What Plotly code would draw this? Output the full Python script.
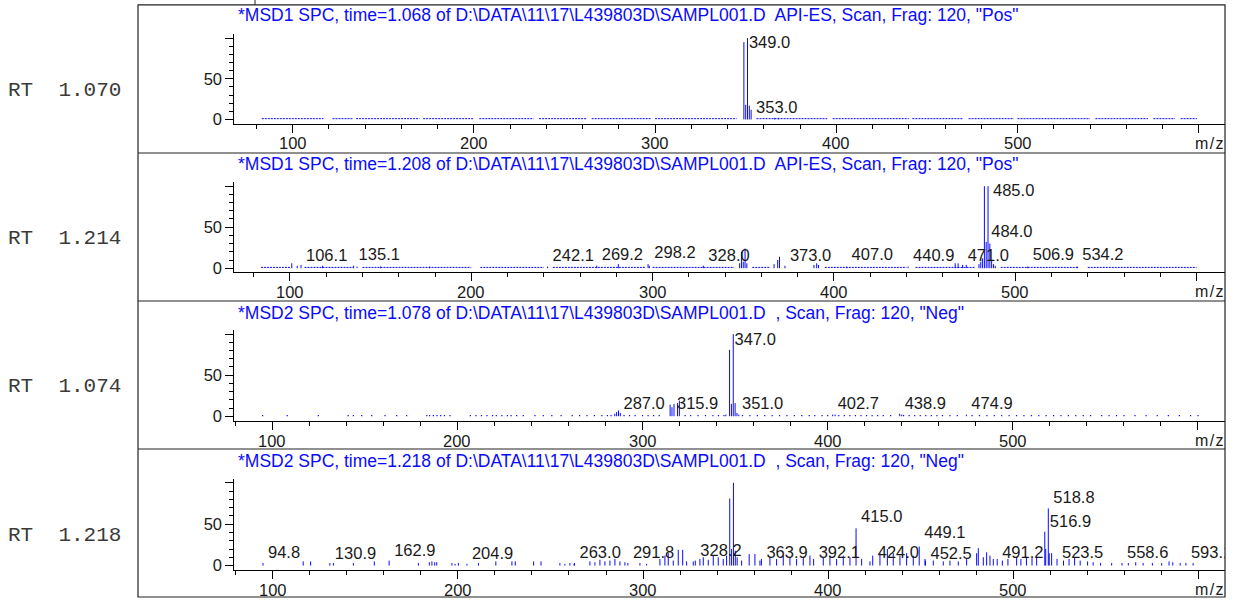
import plotly.graph_objects as go

# ---------------- data ----------------
rt_labels = ["RT  1.070", "RT  1.214", "RT  1.074", "RT  1.218"]
titles = [
    r'*MSD1 SPC, time=1.068 of D:\DATA\11\17\L439803D\SAMPL001.D' + '\u00a0 API-ES, Scan, Frag: 120, "Pos"',
    r'*MSD1 SPC, time=1.208 of D:\DATA\11\17\L439803D\SAMPL001.D' + '\u00a0 API-ES, Scan, Frag: 120, "Pos"',
    r'*MSD2 SPC, time=1.078 of D:\DATA\11\17\L439803D\SAMPL001.D' + '\u00a0 , Scan, Frag: 120, "Neg"',
    r'*MSD2 SPC, time=1.218 of D:\DATA\11\17\L439803D\SAMPL001.D' + '\u00a0 , Scan, Frag: 120, "Neg"',
]
x_tick_vals = [100, 200, 300, 400, 500, 600]
x_tick_text = ["100", "200", "300", "400", "500", ""]
y_tick_vals = [0, 50, 100]
y_tick_text = ["0", "50", ""]
x_unit_label = "m\u200a/\u200az"

# panel 1 : RT 1.070 (Pos)
p1_mz = [349.0, 350.0, 351.0, 352.0, 353.0, 366.0, 368.0]
p1_int = [95, 18, 100, 17, 12, 2, 2]
p1_lab_mz = [349.0, 353.0]
p1_lab_y = [92.7, 13.4]
p1_noise_start = [83, 122, 135, 172, 203, 236, 265, 300, 356, 398, 442, 473, 500, 543, 575, 590]
p1_noise_end = [117, 133, 170, 200, 233, 262, 298, 345, 395, 440, 470, 498, 540, 572, 587, 599]

# panel 2 : RT 1.214 (Pos)
p2_mz = [101.0, 104.0, 106.1, 118.0, 135.1, 137.0, 150.0, 177.0, 242.1, 269.2, 281.1, 297.5,
         298.2, 328.0, 348.0, 349.0, 350.0, 351.0, 352.0, 367.0, 369.0, 370.0, 373.0, 389.0,
         390.5, 391.5, 407.0, 440.9, 466.9, 468.5, 471.0, 473.0, 480.0, 481.0, 482.0, 483.0,
         484.0, 485.0, 486.0, 487.0, 488.0, 489.0, 506.9, 534.2]
p2_int = [6, 3, 4, 3, 3, 2, 2, 2, 2, 3, 5, 5,
          3, 3, 6, 20, 8, 24, 6, 5, 10, 14, 3, 4,
          6, 4, 2, 2, 6, 6, 4, 4, 5, 8, 12, 100,
          32, 100, 30, 10, 5, 3, 2, 2]
p2_lab_mz = [106.1, 135.1, 242.1, 269.2, 298.2, 328.0, 373.0, 407.0, 440.9, 471.0, 485.0, 484.0, 506.9, 534.2]
p2_lab_y = [14.3, 15.5, 14.3, 15.5, 17.0, 14.3, 14.3, 15.5, 14.3, 14.3, 93.5, 42.7, 15.5, 15.5]
p2_noise_start = [84, 108, 140, 205, 245, 300, 355, 395, 445, 492, 540]
p2_noise_end = [100, 135, 200, 240, 296, 345, 365, 440, 478, 535, 600]

# panel 3 : RT 1.074 (Neg)
p3_mz = [285.0, 286.0, 287.0, 288.0, 314.9, 315.9, 317.0, 318.9, 319.9, 345.0, 347.0, 348.0,
         349.0, 350.0, 351.0, 352.0, 402.7, 404.0, 438.9, 440.0, 474.9]
p3_int = [3, 5, 7, 4, 14, 11, 15, 16, 19, 2, 81, 15,
          100, 16, 4, 2, 2, 2, 3, 2, 2]
p3_lab_mz = [287.0, 315.9, 347.0, 351.0, 402.7, 438.9, 474.9]
p3_lab_y = [14.2, 14.2, 92.4, 14.0, 14.2, 14.2, 14.2]
p3_noise_mz = [94.8, 108.1, 124.9, 141.0, 143.8, 148.3, 153.7, 160.9, 167.2, 172.6, 183.5, 185.0,
               187.0, 189.0, 191.0, 193.0, 196.0, 207.0, 210.0, 213.0, 216.0, 219.0, 221.0, 224.0,
               227.0, 229.0, 232.0, 235.6, 241.9, 246.4, 251.0, 256.0, 262.0, 266.0, 270.0, 274.0,
               278.0, 281.0, 283.0, 290.0, 293.0, 296.0, 300.0, 303.0, 306.0, 309.0, 323.0, 326.0,
               330.0, 334.0, 338.0, 341.0, 344.0, 354.0, 358.0, 362.0, 366.0, 370.0, 374.0, 378.0,
               382.0, 386.0, 390.0, 393.0, 397.0, 400.0, 406.0, 409.0, 412.0, 415.0, 418.0, 421.0,
               424.0, 427.0, 430.0, 434.0, 441.0, 444.0, 447.0, 450.0, 453.0, 456.0, 459.0, 462.0,
               466.0, 470.0, 478.0, 482.0, 486.0, 490.0, 494.0, 498.0, 502.0, 506.0, 510.0, 514.0,
               518.0, 522.0, 526.0, 530.0, 534.0, 538.0, 542.0, 548.0, 552.0, 556.0, 560.0, 566.0,
               572.0, 578.0, 584.0, 590.0, 596.0, 600.0]
p3_noise_int = 1.5

# panel 4 : RT 1.218 (Neg)
p4_mz = [94.8, 116.5, 120.5, 130.9, 132.8, 143.6, 154.9, 162.9, 178.7, 184.6, 186.0, 187.5,
         188.6, 196.8, 198.5, 200.3, 204.9, 211.1, 220.5, 229.2, 231.0, 240.9, 244.9,
         255.1, 257.8, 260.5, 262.7, 263.0, 271.3, 274.0, 276.7, 279.4, 282.1, 284.8, 287.5,
         290.2, 291.8, 298.3, 301.9, 309.1, 311.8, 313.6, 316.3, 319.0, 321.4, 323.5, 327.1,
         328.2, 330.7, 332.5, 335.2, 337.9, 340.6, 343.3, 345.1, 346.8, 347.8, 348.8, 349.8,
         350.8, 353.2, 357.3, 360.4, 363.1, 363.9, 368.5, 372.1, 375.7, 379.3, 382.9, 386.5,
         390.1, 392.1, 397.3, 400.9, 404.5, 408.1, 411.7, 415.0, 418.0, 422.5, 424.0, 427.9,
         431.9, 435.1, 438.7, 442.3, 445.9, 449.1, 452.2, 452.5, 456.7, 462.1, 465.7, 470.2,
         474.7, 480.1, 481.0, 483.7, 485.5, 487.3, 489.1, 491.2, 494.0, 497.0, 501.7, 504.0,
         507.0, 510.0, 512.5, 516.9, 517.4, 518.8, 519.3, 520.6, 523.5, 527.0, 530.0, 533.0,
         536.0, 540.0, 543.0, 547.0, 553.0, 558.6, 562.0, 566.0, 570.0, 575.0, 580.0, 584.0,
         586.0, 590.0, 593.1, 597.0]
p4_int = [3, 5, 5, 3, 3, 3, 5, 6, 3, 4, 5, 4,
          4, 3, 2, 3, 2, 3, 5, 5, 5, 5, 5,
          3, 2, 3, 2, 3, 5, 4, 7, 5, 6, 8, 5,
          4, 3, 3, 2, 8, 12, 15, 6, 19, 19, 5, 5,
          6, 8, 10, 7, 12, 10, 8, 12, 81, 20, 100, 18,
          10, 6, 14, 14, 6, 8, 10, 8, 12, 10, 8, 10,
          12, 8, 10, 12, 8, 12, 10, 45, 8, 5, 12, 15,
          20, 15, 12, 15, 12, 23, 8, 6, 6, 5, 6, 5,
          8, 15, 21, 10, 16, 12, 8, 8, 6, 8, 10, 8,
          10, 9, 10, 41, 20, 69, 15, 15, 8, 6, 8, 10,
          6, 5, 4, 3, 3, 3, 3, 4, 3, 3, 3, 5,
          4, 3, 3, 3]
p4_lab_mz = [94.8, 130.9, 162.9, 204.9, 263.0, 291.8, 328.2, 363.9, 392.1, 415.0, 424.0, 449.1,
             452.5, 491.2, 518.8, 516.9, 523.5, 558.6, 593.1]
p4_lab_y = [14.4, 13.2, 16.0, 13.2, 14.4, 14.4, 16.0, 14.4, 14.4, 57.0, 14.4, 38.4,
            13.2, 14.4, 81.0, 52.0, 14.4, 14.4, 14.4]

# ---------------- layout geometry (pixels) ----------------
W, H = 1233, 602
PX_L, PX_R = 234.3, 1225.0
x_ranges = [[67.8, 614.5], [69.3, 615.7], [79.5, 614.6], [79.3, 614.2]]
y_ranges = [[-5.4, 105.0], [-5.2, 105.0], [-6.4, 104.5], [-5.6, 104.0]]
y_px = [(34.2, 124.7), (183.3, 274.3), (332.7, 424.3), (482.7, 574.0)]
XLAB_OFF = 19.5          # px from x-axis line to centre of tick labels
title_y = [15, 165, 315, 464.5]
rt_y = [91, 240, 389, 539]
box = (138, 5, 1225, 601)
separators = [154, 303, 452]

BLUE = "#0a0aff"
INK = "#1a1a1a"
FONT = "Liberation Sans, Arial, sans-serif"


def px2x(px):
    return px / W


def px2y(py):
    return 1 - py / H


def bars(mz, inten):
    xs, ys = [], []
    for m, v in zip(mz, inten):
        xs += [m, m, None]
        ys += [0, v, None]
    return xs, ys


def segs(starts, ends, h):
    xs, ys = [], []
    for s, e in zip(starts, ends):
        xs += [s, e, None]
        ys += [h, h, None]
    return xs, ys


fig = go.Figure()

panels = [
    dict(mz=p1_mz, it=p1_int, lm=p1_lab_mz, ly=p1_lab_y, ns=(p1_noise_start, p1_noise_end)),
    dict(mz=p2_mz, it=p2_int, lm=p2_lab_mz, ly=p2_lab_y, ns=(p2_noise_start, p2_noise_end)),
    dict(mz=p3_mz, it=p3_int, lm=p3_lab_mz, ly=p3_lab_y, nd=p3_noise_mz),
    dict(mz=p4_mz, it=p4_int, lm=p4_lab_mz, ly=p4_lab_y),
]

for i, p in enumerate(panels):
    xa = "x" if i == 0 else f"x{i+1}"
    ya = "y" if i == 0 else f"y{i+1}"
    if "ns" in p:
        nx, ny = segs(p["ns"][0], p["ns"][1], 1.0)
        fig.add_trace(go.Scatter(x=nx, y=ny, mode="lines", xaxis=xa, yaxis=ya,
                                 line=dict(color=BLUE, width=1, dash="2px,1px"),
                                 hoverinfo="skip", showlegend=False))
    if "nd" in p:
        nx, ny = bars(p["nd"], [p3_noise_int] * len(p["nd"]))
        fig.add_trace(go.Scatter(x=nx, y=ny, mode="lines", xaxis=xa, yaxis=ya,
                                 line=dict(color=BLUE, width=1.2),
                                 hoverinfo="skip", showlegend=False))
    bx, by = bars(p["mz"], p["it"])
    fig.add_trace(go.Scatter(x=bx, y=by, mode="lines", xaxis=xa, yaxis=ya,
                             line=dict(color=BLUE, width=1),
                             hoverinfo="skip", showlegend=False))
    # peak labels to the right of their peaks (small pixel gap)
    ppu = (PX_R - PX_L) / (x_ranges[i][1] - x_ranges[i][0])
    gap = 5.0 / ppu
    fig.add_trace(go.Scatter(x=[m + gap for m in p["lm"]], y=p["ly"],
                             text=[f"{m:.1f}" for m in p["lm"]],
                             mode="text", textposition="middle right",
                             textfont=dict(family=FONT, size=16.5, color=INK),
                             cliponaxis=True, xaxis=xa, yaxis=ya,
                             hoverinfo="skip", showlegend=False))

layout = dict(
    width=W, height=H,
    margin=dict(l=0, r=0, t=0, b=0),
    paper_bgcolor="white", plot_bgcolor="white",
    showlegend=False,
    font=dict(family=FONT, size=16, color=INK),
)

axis_common_x = dict(
    showgrid=False, zeroline=False, showline=True, linecolor="black", linewidth=1,
    ticks="outside", ticklen=8, tickwidth=1, tickcolor="black",
    tickmode="array", tickvals=x_tick_vals, showticklabels=False,
    minor=dict(ticks="outside", ticklen=4, tickwidth=1, tickcolor="black", tickmode="linear", tick0=0, dtick=20),
    fixedrange=True,
)
axis_common_y = dict(
    showgrid=False, zeroline=False, showline=True, linecolor="black", linewidth=1,
    ticks="outside", ticklen=8, tickwidth=1, tickcolor="black",
    tickmode="array", tickvals=y_tick_vals, ticktext=y_tick_text,
    tickfont=dict(family=FONT, size=16.5, color=INK),
    minor=dict(ticks="outside", ticklen=4, tickwidth=1, tickcolor="black", tickmode="linear", tick0=0, dtick=10),
    fixedrange=True,
)

for i in range(4):
    xk = "xaxis" if i == 0 else f"xaxis{i+1}"
    yk = "yaxis" if i == 0 else f"yaxis{i+1}"
    xa_name = "x" if i == 0 else f"x{i+1}"
    ya_name = "y" if i == 0 else f"y{i+1}"
    top, bot = y_px[i]
    layout[xk] = dict(axis_common_x, domain=[px2x(PX_L), px2x(PX_R)], range=x_ranges[i], anchor=ya_name)
    layout[yk] = dict(axis_common_y, domain=[px2y(bot), px2y(top)], range=y_ranges[i], anchor=xa_name)

annotations = []
for i in range(4):
    xa_name = "x" if i == 0 else f"x{i+1}"
    lab_y = px2y(y_px[i][1] + XLAB_OFF)
    # x tick labels
    for v, t in zip(x_tick_vals, x_tick_text):
        if t:
            annotations.append(dict(xref=xa_name, yref="paper", x=v, y=lab_y, xanchor="center", yanchor="middle",
                                    showarrow=False, text=t, font=dict(family=FONT, size=16.5, color=INK)))
    annotations.append(dict(xref="paper", yref="paper", x=px2x(1225), y=lab_y,
                            xanchor="right", yanchor="middle", showarrow=False, text=x_unit_label,
                            font=dict(family=FONT, size=16, color=INK)))
    annotations.append(dict(xref="paper", yref="paper", x=px2x(236), y=px2y(title_y[i]),
                            xanchor="left", yanchor="middle", showarrow=False, text=titles[i],
                            font=dict(family=FONT, size=17.5, color=BLUE)))
    annotations.append(dict(xref="paper", yref="paper", x=px2x(6), y=px2y(rt_y[i]),
                            xanchor="left", yanchor="middle", showarrow=False, text=rt_labels[i].replace(" ", "\u00a0"),
                            font=dict(family="Liberation Mono, Courier New, monospace", size=21, color="#3a3a3a")))
layout["annotations"] = annotations

shapes = [dict(type="rect", xref="paper", yref="paper",
               x0=px2x(box[0]), y0=px2y(box[3]), x1=px2x(box[2]), y1=px2y(box[1]),
               line=dict(color="#222222", width=1.2))]
for s in separators:
    shapes.append(dict(type="line", xref="paper", yref="paper",
                       x0=px2x(box[0]), x1=px2x(box[2]), y0=px2y(s), y1=px2y(s),
                       line=dict(color="#222222", width=1.2)))
shapes.append(dict(type="line", xref="paper", yref="paper",
                   x0=px2x(255), x1=px2x(255), y0=px2y(0), y1=px2y(5),
                   line=dict(color="#222222", width=1)))
layout["shapes"] = shapes

fig.update_layout(**layout)

post = (
    "document.documentElement.style.margin='0';document.body.style.margin='0';"
    "document.documentElement.style.overflow='hidden';document.body.style.overflow='hidden';"
    "var g=document.getElementById('{plot_id}');g.style.overflow='hidden';"
    "if(g.parentElement){g.parentElement.style.overflow='hidden';g.parentElement.style.height='602px';}"
)
fig.write_html("out.html", config={"displayModeBar": False, "staticPlot": True}, post_script=post)
